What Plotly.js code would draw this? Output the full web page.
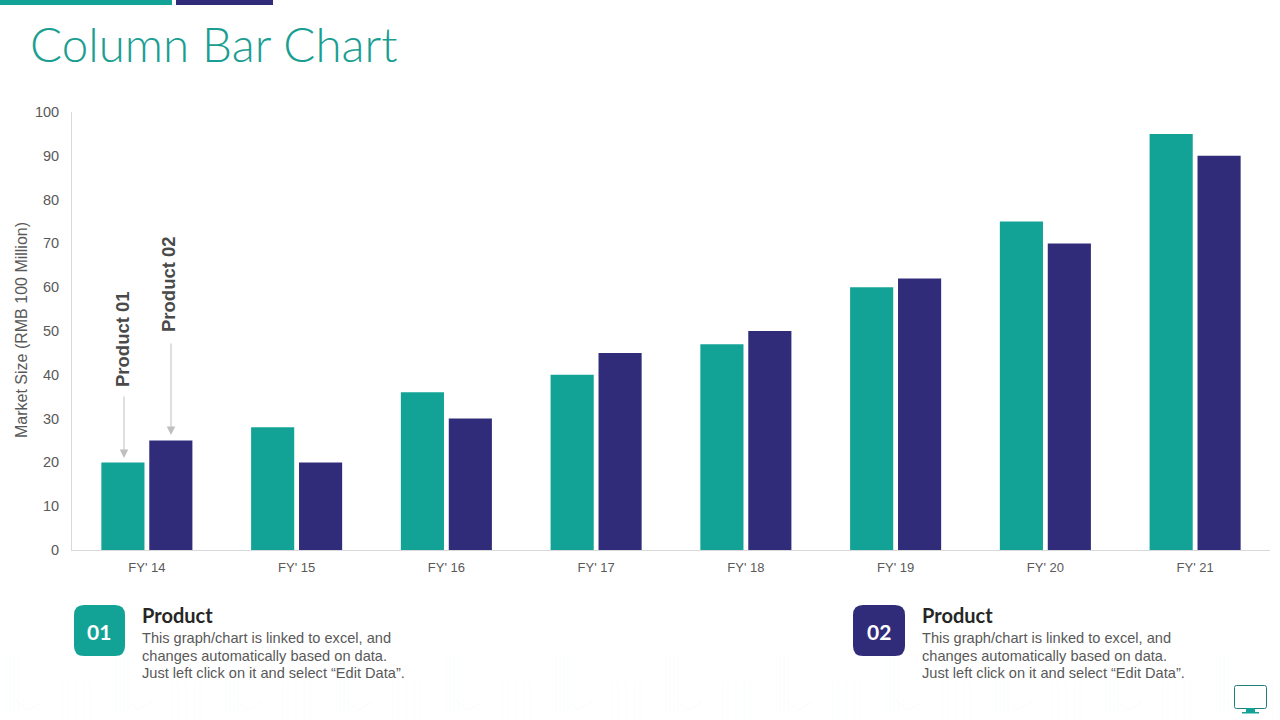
<!DOCTYPE html>
<html><head><meta charset="utf-8">
<script src="https://cdn.plot.ly/plotly-3.0.1.min.js"></script>
<style>html,body{margin:0;padding:0;background:#fff;overflow:hidden}#c{width:1280px;height:720px}</style>
</head><body><div id="c"></div>
<script>
const categories = ["FY' 14","FY' 15","FY' 16","FY' 17","FY' 18","FY' 19","FY' 20","FY' 21"];
const product01 = [20,28,36,40,47,60,75,95];
const product02 = [25,20,30,45,50,62,70,90];
const yTicks = [0,10,20,30,40,50,60,70,80,90,100];
const TEAL = '#13a396', NAVY = '#312c7a';
const L=72,R=1270,T=112,B=550;
const px = v => (v-L)/(R-L), py = v => (B-v)/(B-T);
const sans = 'Liberation Sans, Arial, sans-serif';
const geo = 'Lato, sans-serif';

function rrect(x0,y0,x1,y1,r){
  const X=px, Y=py;
  return `M${X(x0+r)},${Y(y0)} L${X(x1-r)},${Y(y0)} Q${X(x1)},${Y(y0)} ${X(x1)},${Y(y0+r)} L${X(x1)},${Y(y1-r)} Q${X(x1)},${Y(y1)} ${X(x1-r)},${Y(y1)} L${X(x0+r)},${Y(y1)} Q${X(x0)},${Y(y1)} ${X(x0)},${Y(y1-r)} L${X(x0)},${Y(y0+r)} Q${X(x0)},${Y(y0)} ${X(x0+r)},${Y(y0)} Z`;
}
const box=(x0,y0,x1,y1,fill)=>({type:'rect',xref:'paper',yref:'paper',x0:px(x0),x1:px(x1),y0:py(y1),y1:py(y0),fillcolor:fill,line:{width:0},layer:'above'});
const faint=(x0,y0,x1,y1)=>({type:'line',xref:'paper',yref:'paper',x0:px(x0),x1:px(x1),y0:py(y0),y1:py(y1),line:{color:'#fafcfc',width:1},layer:'below'});
const shapes=[];
for(let k=0;k<12;k++){
  const o=-2+k*110;
  [8,12,16,20].forEach(d=>shapes.push(faint(o+d,656,o+d,712)));
  shapes.push(faint(o+18,700,o+30,710),faint(o+30,710,o+44,702));
  [64,70,78,86,92].forEach(d=>shapes.push(faint(o+d,682,o+d,720)));
}
shapes.push(
  box(0,0,172,5,TEAL), box(176,0,273,5,NAVY),
  {type:'path',xref:'paper',yref:'paper',path:rrect(74,605,125,656,10),fillcolor:TEAL,line:{width:0}},
  {type:'path',xref:'paper',yref:'paper',path:rrect(853,605,905,656,10),fillcolor:NAVY,line:{width:0}},
  {type:'path',xref:'paper',yref:'paper',path:rrect(1234.5,685.5,1266.5,708.5,2),fillcolor:'#fff',line:{color:'#1f7f7c',width:1}},
  box(1246,708,1255,712,TEAL), box(1242,712,1259,713.5,TEAL)
);
const txt=(x,y,text,size,color,opts={})=>Object.assign({xref:'paper',yref:'paper',x:px(x),y:py(y),text,showarrow:false,xanchor:'left',yanchor:'middle',font:{family:sans,size,color}},opts);
const bodyLines=['This graph/chart is linked to excel, and','changes automatically based on data.','Just left click on it and select “Edit Data”.'];
const annos=[
  txt(28,44,'Column Bar Chart',47.5,'#1b9e92',{font:{family:geo,size:47.5,color:'#1b9e92',weight:300}}),
  txt(98.5,631,'01',21,'#fff',{xanchor:'center',font:{family:geo,size:21,color:'#fff',weight:700}}),
  txt(879,631,'02',21,'#fff',{xanchor:'center',font:{family:geo,size:21,color:'#fff',weight:700}}),
  txt(140,614.5,'Product',20,'#262626',{font:{family:geo,size:20,color:'#262626',weight:700}}),
  txt(920,614.5,'Product',20,'#262626',{font:{family:geo,size:20,color:'#262626',weight:700}}),
  txt(122,339,'<b>Product 01</b>',18.5,'#4a4a4a',{xanchor:'center',textangle:-90}),
  txt(168,284,'<b>Product 02</b>',18.5,'#4a4a4a',{xanchor:'center',textangle:-90}),
  txt(21.5,330.5,'Market Size (RMB 100 Million)',16,'#595959',{xanchor:'center',textangle:-90}),
  {xref:'paper',yref:'paper',axref:'pixel',ayref:'pixel',x:px(124),y:py(458),ax:0,ay:-63,text:'',showarrow:true,arrowhead:2,arrowsize:1.7,arrowwidth:1,arrowcolor:'#bfbfbf'},
  {xref:'paper',yref:'paper',axref:'pixel',ayref:'pixel',x:px(171),y:py(435),ax:0,ay:-93,text:'',showarrow:true,arrowhead:2,arrowsize:1.7,arrowwidth:1,arrowcolor:'#bfbfbf'}
];
[140,920].forEach(x=>bodyLines.forEach((l,i)=>annos.push(txt(x,638+i*17.6,l,14.6,'#595959'))));
Plotly.newPlot('c',[
  {type:'bar',name:'Product 01',x:categories,y:product01,marker:{color:TEAL}},
  {type:'bar',name:'Product 02',x:categories,y:product02,marker:{color:NAVY}}
],{
  width:1280,height:720,margin:{l:L,r:1280-R,t:T,b:720-B,pad:0},
  paper_bgcolor:'#fff',plot_bgcolor:'#fff',showlegend:false,
  barmode:'group',bargap:0.36,bargroupgap:0.1,
  xaxis:{type:'category',showgrid:false,zeroline:false,showline:true,linecolor:'#d9d9d9',linewidth:1,ticks:'',ticklabelstandoff:5,tickfont:{family:sans,size:13,color:'#595959'},ticklen:0},
  yaxis:{range:[0,100],tickvals:yTicks,showgrid:false,zeroline:false,showline:true,linecolor:'#d9d9d9',linewidth:1,ticks:'',ticklabelstandoff:9,tickfont:{family:sans,size:14.5,color:'#595959'}},
  shapes,annotations:annos
},{displayModeBar:false,staticPlot:true});
</script></body></html>
